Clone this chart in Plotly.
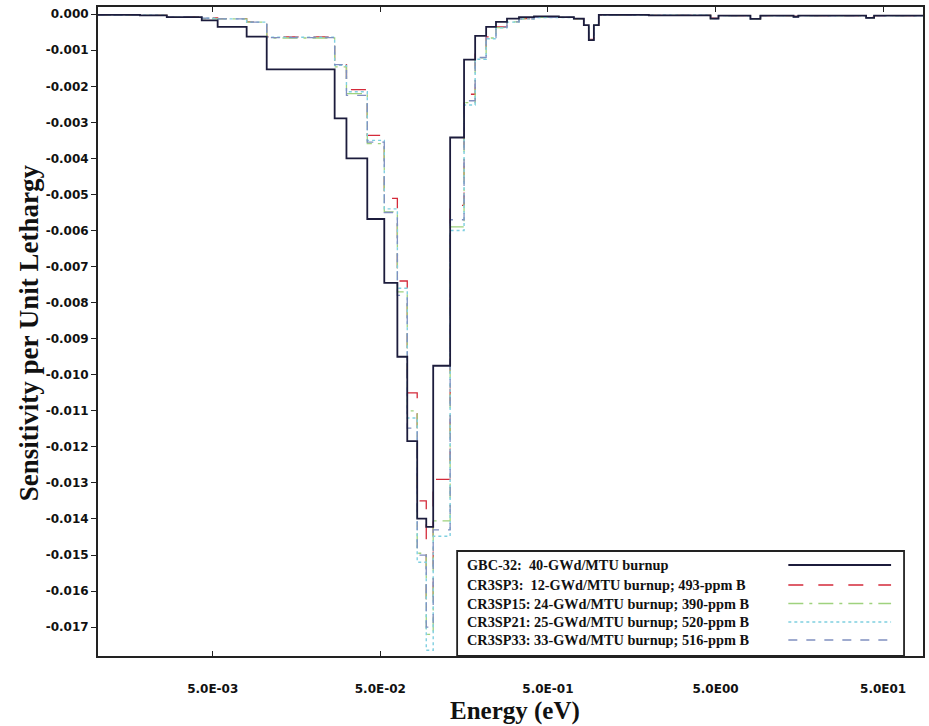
import plotly.graph_objects as go

# Energy group boundaries (eV)
energy_edges = [0.001, 0.00184, 0.00266, 0.0043, 0.00535, 0.00797, 0.0105, 0.0267, 0.0314,
                0.0418, 0.0528, 0.0632, 0.0724, 0.083, 0.094, 0.1034, 0.1305, 0.158, 0.184,
                0.214, 0.245, 0.285, 0.336, 0.413, 0.581, 0.714, 0.819, 0.877, 0.94, 1.006,
                2.0, 4.67, 5.21, 8.08, 9.27, 14.6, 15.6, 39.6, 44.2, 86.5]

tail_gbc = [-0.00008, -0.00012, -0.00030, -0.00072, -0.00030, -0.00002, -0.00003, -0.00012,
            -0.00004, -0.00013, -0.00004, -0.00007, -0.00004, -0.00010, -0.00004]

gbc32 = [-0.00002, -0.00003, -0.00008, -0.00017, -0.00035, -0.00062,
         -0.00153, -0.00289, -0.00400, -0.00568, -0.00745, -0.00950, -0.01184, -0.01399, -0.01422,
         -0.00975, -0.00342, -0.00126, -0.00060, -0.00035, -0.00021, -0.00012, -0.00008, -0.00006] + tail_gbc

cr3sp3 = [-0.00002, -0.00003, -0.00007, -0.00010, -0.00012, -0.00021,
          -0.00063, -0.00137, -0.00209, -0.00336, -0.00511, -0.00740, -0.01050, -0.01350, -0.01630,
          -0.01290, -0.00530, -0.00222, -0.00105, -0.00063, -0.00035, -0.00020, -0.00012, -0.00008,
          -0.00009, -0.00013, -0.00030, -0.00070, -0.00030, -0.00002, -0.00003, -0.00011,
          -0.00004, -0.00012, -0.00004, -0.00006, -0.00004, -0.00009, -0.00004]

cr3sp15 = [-0.00002, -0.00003, -0.00008, -0.00012, -0.00013, -0.00022,
           -0.00066, -0.00146, -0.00220, -0.00359, -0.00548, -0.00770, -0.01100, -0.01495, -0.01720,
           -0.01405, -0.00590, -0.00245, -0.00121, -0.00066, -0.00037, -0.00021, -0.00013, -0.00009,
           -0.00009, -0.00013, -0.00031, -0.00071, -0.00030, -0.00002, -0.00003, -0.00012,
           -0.00004, -0.00013, -0.00004, -0.00007, -0.00004, -0.00010, -0.00004]

cr3sp21 = [-0.00002, -0.00003, -0.00008, -0.00011, -0.00013, -0.00022,
           -0.00064, -0.00142, -0.00215, -0.00350, -0.00540, -0.00760, -0.01120, -0.01520, -0.01764,
           -0.01448, -0.00600, -0.00252, -0.00125, -0.00068, -0.00038, -0.00022, -0.00013, -0.00009,
           -0.00009, -0.00013, -0.00031, -0.00072, -0.00030, -0.00002, -0.00003, -0.00012,
           -0.00004, -0.00013, -0.00004, -0.00007, -0.00004, -0.00010, -0.00004]

cr3sp33 = [-0.00002, -0.00003, -0.00008, -0.00011, -0.00013, -0.00022,
           -0.00065, -0.00140, -0.00225, -0.00355, -0.00550, -0.00780, -0.01148, -0.01500, -0.01700,
           -0.01430, -0.00570, -0.00240, -0.00120, -0.00065, -0.00036, -0.00021, -0.00013, -0.00009,
           -0.00009, -0.00013, -0.00031, -0.00071, -0.00030, -0.00002, -0.00003, -0.00012,
           -0.00004, -0.00013, -0.00004, -0.00007, -0.00004, -0.00010, -0.00004]

series_names = ["GBC-32:  40-GWd/MTU burnup",
                "CR3SP3:  12-GWd/MTU burnup; 493-ppm B",
                "CR3SP15: 24-GWd/MTU burnup; 390-ppm B",
                "CR3SP21: 25-GWd/MTU burnup; 520-ppm B",
                "CR3SP33: 33-GWd/MTU burnup; 516-ppm B"]
series_values = [gbc32, cr3sp3, cr3sp15, cr3sp21, cr3sp33]
series_colors = ["#1c1c3c", "#d42a3a", "#9fd27e", "#7fcfe0", "#8090c0"]
series_dash = ["solid", "longdash", "longdashdot", "dot", "dash"]
series_width = [1.8, 1.3, 1.3, 1.4, 1.3]

x_tickvals = [0.005, 0.05, 0.5, 5, 50]
x_ticktext = ["5.0E-03", "5.0E-02", "5.0E-01", "5.0E00", "5.0E01"]
y_tickvals = [-0.001 * i for i in range(18)]
y_ticktext = ["0.000"] + ["-0.%03d" % i for i in range(1, 18)]

fig = go.Figure()
order = [1, 2, 3, 4, 0]
for i in order:
    vals = series_values[i]
    fig.add_trace(go.Scatter(
        x=energy_edges, y=vals + [vals[-1]], mode="lines", line_shape="hv",
        line=dict(color=series_colors[i], dash=series_dash[i], width=series_width[i]),
        name=series_names[i], showlegend=False))

# custom legend (text left, line sample right)
L, R, T, B = 98, 925, 7, 656
W, H = R - L, B - T
def px(x):
    return (x - L) / W
def py(y):
    return (B - y) / H

shapes = [dict(type="rect", xref="paper", yref="paper", x0=px(458), x1=px(906), y0=py(656), y1=py(551),
               line=dict(color="#222", width=1.8), fillcolor="white", layer="above")]
annotations = []
rows = [565, 585, 603.5, 622, 640]
for k in range(5):
    annotations.append(dict(xref="paper", yref="paper", x=px(466), y=py(rows[k]), xanchor="left",
                            yanchor="middle", showarrow=False, text="<b>%s</b>" % series_names[k],
                            font=dict(family="Liberation Serif", size=14.3, color="#111")))
    shapes.append(dict(type="line", xref="paper", yref="paper", x0=px(790), x1=px(893),
                       y0=py(rows[k]), y1=py(rows[k]), layer="above",
                       line=dict(color=series_colors[k], dash=series_dash[k], width=series_width[k])))

annotations.append(dict(xref="paper", yref="paper", x=px(516), y=py(711), showarrow=False,
                        text="<b>Energy (eV)</b>", xanchor="center", yanchor="middle",
                        font=dict(family="Liberation Serif", size=25, color="#111")))
annotations.append(dict(xref="paper", yref="paper", x=px(29), y=py(333), showarrow=False,
                        text="<b>Sensitivity per Unit Lethargy</b>", textangle=-90,
                        xanchor="center", yanchor="middle",
                        font=dict(family="Liberation Serif", size=27, color="#111")))

fig.update_layout(
    width=929, height=726, margin=dict(l=L, r=929 - R, t=T, b=726 - B),
    paper_bgcolor="white", plot_bgcolor="white",
    shapes=shapes, annotations=annotations, showlegend=False,
    xaxis=dict(type="log", range=[-2.9855, 1.937], tickvals=x_tickvals, ticktext=x_ticktext,
               ticks="inside", ticklen=5, tickcolor="#222", showline=True, linecolor="#222",
               linewidth=2, mirror="ticks", showgrid=False, zeroline=False, ticklabelstandoff=21,
               tickfont=dict(family="DejaVu Sans", size=12, weight="bold", color="#111")),
    yaxis=dict(range=[-0.0178, 0.0002], tickvals=y_tickvals, ticktext=y_ticktext,
               ticks="outside", ticklen=5, tickcolor="#222", showline=True, linecolor="#222",
               linewidth=2, mirror=True, showgrid=False, zeroline=False,
               tickfont=dict(family="DejaVu Sans", size=12, weight="bold", color="#111")),
)

fig.write_html("out.html")
